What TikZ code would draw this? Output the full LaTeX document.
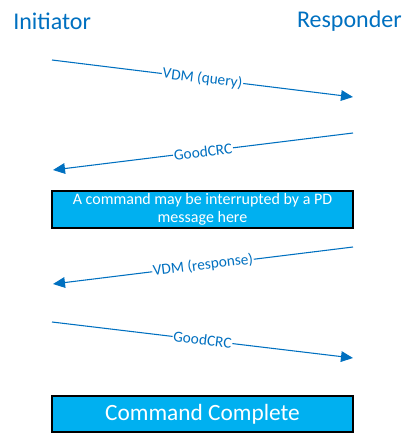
\documentclass[tikz,border=0pt]{standalone}
\usepackage{fontspec}
\setmainfont{Carlito}
\usetikzlibrary{arrows.meta}
\definecolor{msgblue}{HTML}{0070C0}
\definecolor{boxblue}{HTML}{00B0F0}
\tikzset{
  party/.style={text=msgblue, font=\fontsize{18}{20}\selectfont, inner sep=0pt},
  msg/.style={draw=msgblue, line width=0.8pt, -{Triangle[length=9pt,width=8pt]}},
  msglabel/.style={fill=white, text=msgblue, font=\fontsize{11.5}{13}\selectfont, inner sep=0.6pt, sloped},
  note/.style={draw=black, line width=1.5pt, fill=boxblue, text=white, minimum width=226pt, align=center, inner sep=0pt}
}
\begin{document}
\begin{tikzpicture}[x=0.75pt, y=-0.75pt]
\useasboundingbox (0,0) rectangle (404,433);
\node[party, anchor=west] (ini) at (13,21) {Initiator};
\node[party, anchor=east] (res) at (402,21) {Responder};
\coordinate (a1) at (52,60);  \coordinate (b1) at (353,97);
\coordinate (a2) at (353,133); \coordinate (b2) at (53,170);
\coordinate (a3) at (353,247); \coordinate (b3) at (53,284);
\coordinate (a4) at (52,322);  \coordinate (b4) at (353,358);
\draw[msg] (a1) -- node[msglabel] {VDM (query)} (b1);
\draw[msg] (a2) -- node[msglabel] {GoodCRC} (b2);
\draw[msg] (a3) -- node[msglabel] {VDM (response)} (b3);
\draw[msg] (a4) -- node[msglabel] {GoodCRC} (b4);
\node[note, minimum height=27.5pt, font=\fontsize{12}{13.5}\selectfont] (n1) at (202.5,209.5) {A command may be interrupted by a PD\\message here};
\node[note, minimum height=27pt, font=\fontsize{17.5}{19}\selectfont] (n2) at (202.5,414) {Command Complete};
\end{tikzpicture}
\end{document}
